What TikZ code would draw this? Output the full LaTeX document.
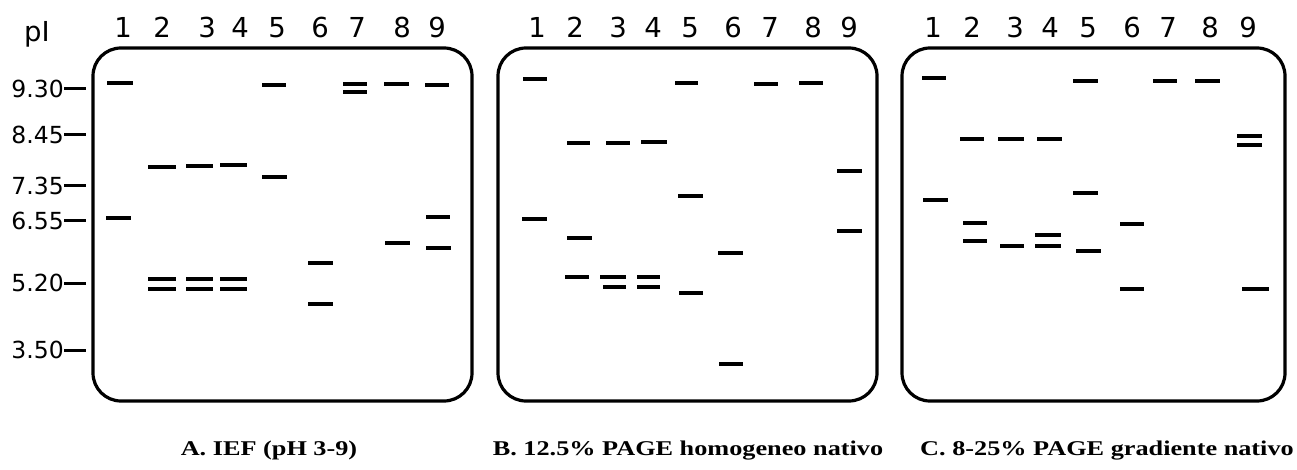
\documentclass[tikz,border=0pt]{standalone}
\usepackage{fontspec}
\setmainfont{Liberation Serif}
\setsansfont{DejaVu Sans}
\newfontfamily\capfont[FakeStretch=1.25]{Liberation Serif}

\tikzset{
  gel/.style={draw, line width=3.2pt, rounded corners=28pt},
  band/.style={line width=3.3pt},
  thickband/.style={line width=4.2pt},
  tick/.style={line width=3pt},
  lane/.style={font=\sffamily\fontsize{27.5}{28}\selectfont, anchor=base, inner sep=0pt},
  pilabel/.style={font=\sffamily\fontsize{23.5}{24}\selectfont, anchor=east, inner sep=0pt},
  caption/.style={font=\capfont\bfseries\fontsize{21}{21}\selectfont, anchor=base, inner sep=0pt}
}

\begin{document}
\begin{tikzpicture}[x=1pt, y=-1pt]
  \useasboundingbox (0,0) rectangle (1297,470);

  % the three gels
  \draw[gel] (93,48) rectangle (472,401);
  \draw[gel] (498,48) rectangle (877,401);
  \draw[gel] (902,48) rectangle (1285,401);

  % pI scale
  \node[lane] (pI) at (37,42) {pI};
  \foreach \v/\y in {9.30/89, 8.45/135, 7.35/186, 6.55/221, 5.20/283, 3.50/350}
   {
    \node[pilabel] (pi\y) at (64,\y) {\v};
    \draw[tick] (pi\y.east) -- ++(22,0);
   }

  % lane numbers
  \foreach \n/\x in {1/123, 2/162, 3/207, 4/240, 5/277, 6/320, 7/357, 8/402, 9/437}
   \node[lane] (la\n) at (\x,38) {\n};
  \foreach \n/\x in {1/537, 2/575, 3/618, 4/653, 5/690, 6/733, 7/770, 8/813, 9/849}
   \node[lane] (lb\n) at (\x,38) {\n};
  \foreach \n/\x in {1/933, 2/972, 3/1015, 4/1050, 5/1088, 6/1132, 7/1168, 8/1210, 9/1248}
   \node[lane] (lc\n) at (\x,38) {\n};

  % bands, gel A
  \foreach \a/\b/\y in {107/133/83, 106/131/218,
      148/176/167, 148/176/279, 148/176/289,
      186/213/166, 186/213/279, 186/213/289,
      220/247/165, 220/247/279, 220/247/289,
      262/286/85, 262/287/177,
      308/333/263, 308/333/304,
      343/367/84, 343/367/92,
      384/409/84, 385/410/243,
      425/449/85, 426/450/217}
   \draw[band] (\a,\y) -- (\b,\y);
  \draw[thickband] (426,248) -- (451,248);

  % bands, gel B
  \foreach \a/\b/\y in {523/547/79, 522/547/219,
      567/590/143, 567/592/238, 565/589/277,
      606/630/143, 600/626/277, 603/626/287,
      641/667/142, 637/660/277, 637/660/287,
      675/698/83, 678/703/196, 679/703/293,
      718/743/253, 719/743/364,
      754/778/84,
      799/823/83,
      837/862/171, 837/862/231}
   \draw[band] (\a,\y) -- (\b,\y);

  % bands, gel C
  \foreach \a/\b/\y in {922/946/78, 923/948/200,
      960/984/139, 963/987/223, 963/987/241,
      998/1024/139, 1000/1024/246,
      1037/1062/139, 1035/1061/235, 1035/1061/246,
      1073/1098/81, 1073/1098/193, 1076/1101/251,
      1120/1144/224, 1120/1144/289,
      1153/1177/81,
      1195/1220/81,
      1237/1262/136, 1237/1262/145, 1242/1269/289}
   \draw[band] (\a,\y) -- (\b,\y);

  % captions
  \node[caption] (capA) at (269,455) {A. IEF (pH 3-9)};
  \node[caption] (capB) at (688,455) {B. 12.5\% PAGE homogeneo nativo};
  \node[caption] (capC) at (1107,455) {C. 8-25\% PAGE gradiente nativo};
\end{tikzpicture}
\end{document}
